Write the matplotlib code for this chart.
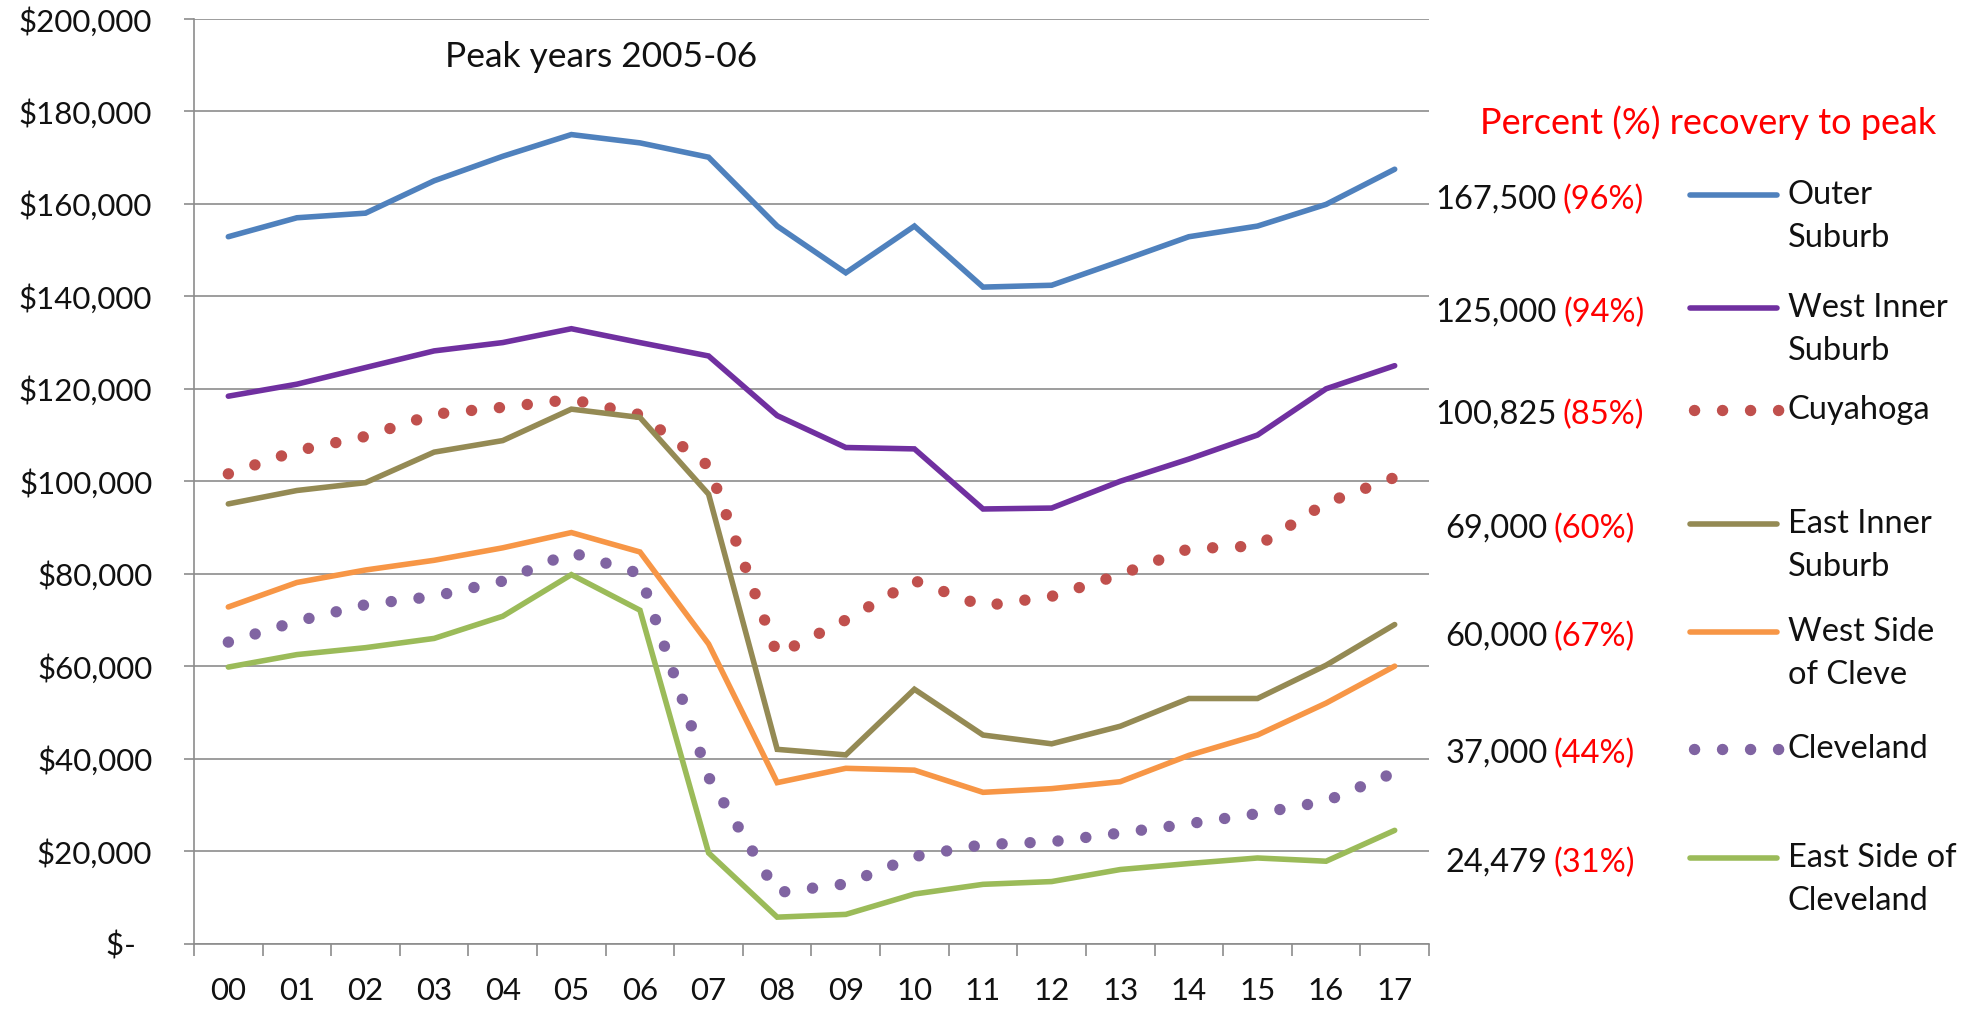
import matplotlib
matplotlib.use('Agg')
import matplotlib.pyplot as plt
from matplotlib.lines import Line2D
import numpy as np

plt.rcParams['font.family'] = ['Lato', 'DejaVu Sans']

# ---------------- data ----------------
years = ['00', '01', '02', '03', '04', '05', '06', '07', '08', '09',
         '10', '11', '12', '13', '14', '15', '16', '17']

outer_suburb = [152900, 157000, 158000, 165000, 170300, 175000, 173200, 170100, 155200,
                145100, 155200, 142000, 142400, 147600, 152900, 155200, 159900, 167500]
west_inner_suburb = [118400, 121000, 124600, 128200, 130000, 133000, 130000, 127100, 114200,
                     107300, 107000, 94000, 94200, 100000, 104800, 110000, 120000, 125000]
cuyahoga = [101600, 106600, 109700, 114500, 116000, 117700, 114400, 103300, 62500,
            70000, 78500, 73000, 75100, 79800, 85400, 86000, 95300, 100825]
east_inner_suburb = [95100, 98000, 99700, 106300, 108800, 115600, 113800, 97200, 42000,
                     40800, 55000, 45100, 43200, 47000, 53000, 53000, 60200, 69000]
west_side_cleve = [72800, 78100, 80800, 82900, 85600, 88900, 84700, 64800, 34800,
                   37900, 37500, 32700, 33500, 35000, 40700, 45100, 52000, 60000]
cleveland = [65200, 69700, 73300, 75100, 78400, 84600, 80000, 36000, 11000,
             12900, 18800, 21400, 22000, 23900, 25900, 28100, 30800, 37000]
east_side_cleveland = [59800, 62500, 64000, 66000, 70800, 79800, 72100, 19600, 5700,
                       6300, 10700, 12800, 13400, 16000, 17300, 18500, 17800, 24479]

series_names = ['Outer\nSuburb', 'West Inner\nSuburb', 'Cuyahoga', 'East Inner\nSuburb',
                'West Side\nof Cleve', 'Cleveland', 'East Side of\nCleveland']
end_values = ['167,500', '125,000', '100,825', '69,000', '60,000', '37,000', '24,479']
recovery_pct = ['(96%)', '(94%)', '(85%)', '(60%)', '(67%)', '(44%)', '(31%)']

y_ticks = list(range(0, 200001, 20000))
y_tick_labels = ['$-  '] + ['${:,}'.format(v) for v in y_ticks[1:]]

annotation_title = 'Percent (%) recovery to peak'
peak_note = 'Peak years 2005-06'

# ---------------- styles ----------------
colors = ['#4F81BD', '#7030A0', '#C0504D', '#948A54', '#F79646', '#8064A2', '#9BBB59']
dotted = [False, False, True, False, False, True, False]
series = [outer_suburb, west_inner_suburb, cuyahoga, east_inner_suburb,
          west_side_cleve, cleveland, east_side_cleveland]

W, H = 1965, 1009
fig = plt.figure(figsize=(W / 100, H / 100), dpi=100)
fig.patch.set_facecolor('white')


def fx(x):
    return x / W


def fy(y):
    return 1 - y / H


ax_l, ax_r, ax_t, ax_b = 194, 1429, 19, 943.5
ax = fig.add_axes([fx(ax_l), fy(ax_b), (ax_r - ax_l) / W, (ax_b - ax_t) / H])

xs = np.arange(len(years))
solid_lw = 4.0
dot_lw = 8.2
dot_style = (0, (0.01, 2.45))
txt_c = '#111111'


def style_kwargs(is_dotted, color):
    if is_dotted:
        return dict(color=color, lw=dot_lw, linestyle=dot_style, dash_capstyle='round')
    return dict(color=color, lw=solid_lw, solid_capstyle='round', solid_joinstyle='miter')


for vals, c, d in zip(series, colors, dotted):
    ax.plot(xs, vals, zorder=3, **style_kwargs(d, c))

grid_c = '#8C8C8C'
ax.set_xlim(-0.5, 17.5)
ax.set_ylim(0, 200000)
ax.set_yticks(y_ticks)
ax.set_yticklabels(y_tick_labels)
ax.set_xticks(xs)
ax.set_xticklabels(years)
ax.set_xticks(np.arange(-0.5, 18, 1), minor=True)
ax.yaxis.grid(True, color=grid_c, lw=1.2)
ax.set_axisbelow(True)
for s in ['top', 'right']:
    ax.spines[s].set_visible(False)
for s in ['left', 'bottom']:
    ax.spines[s].set_color(grid_c)
    ax.spines[s].set_linewidth(1.2)
ax.tick_params(axis='y', length=7, width=1.2, color=grid_c, pad=23, labelsize=22.5, labelcolor=txt_c)
ax.tick_params(axis='x', which='major', length=0, pad=24, labelsize=22.5, labelcolor=txt_c)
ax.tick_params(axis='x', which='minor', length=8.5, width=1.2, color=grid_c)

ax.text((445 - ax_l) / (ax_r - ax_l), (ax_b - 57) / (ax_b - ax_t), peak_note,
        transform=ax.transAxes, fontsize=25.5, color=txt_c, ha='left', va='center')

# ---------------- right side annotations & legend ----------------
fig.text(fx(1480), fy(123), annotation_title, color='#FF0000', fontsize=26, ha='left', va='center')

row_y = [198, 311, 413, 527, 635, 752, 861]
line_step = 43
label_fs = 23.5

fig.canvas.draw()
renderer = fig.canvas.get_renderer()

for i in range(len(series)):
    y = row_y[i]
    t_num = fig.text(0, fy(y + 2), end_values[i], color=txt_c, fontsize=label_fs, ha='left', va='center')
    t_pct = fig.text(0, fy(y + 2), recovery_pct[i], color='#FF0000', fontsize=label_fs, ha='left', va='center')
    w_num = t_num.get_window_extent(renderer).width
    w_pct = t_pct.get_window_extent(renderer).width
    gap = 6
    total = w_num + gap + w_pct
    start = 1540 - total / 2
    t_num.set_x(fx(start))
    t_pct.set_x(fx(start + w_num + gap))
    # legend sample
    kw = style_kwargs(dotted[i], colors[i])
    if dotted[i]:
        x0, x1 = 1694, 1782
    else:
        x0, x1 = 1690, 1777
    fig.add_artist(Line2D([fx(x0), fx(x1)], [fy(y - 3), fy(y - 3)], transform=fig.transFigure, **kw))
    for k, part in enumerate(series_names[i].split('\n')):
        fig.text(fx(1788), fy(y - 3 + k * line_step), part, color=txt_c, fontsize=label_fs,
                 ha='left', va='center')

fig.savefig('out.png', dpi=100, facecolor='white')
